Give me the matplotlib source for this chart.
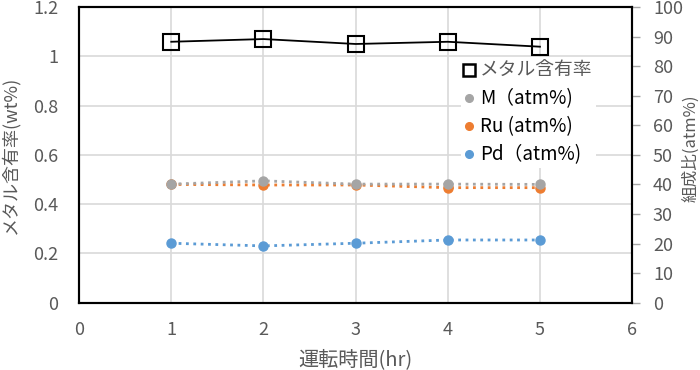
import matplotlib
matplotlib.use("Agg")
import matplotlib.pyplot as plt
from matplotlib.lines import Line2D

plt.rcParams["font.family"] = ["Noto Sans CJK JP", "DejaVu Sans"]

hours = [1, 2, 3, 4, 5]
metal_content = [1.059, 1.070, 1.050, 1.059, 1.039]
m_atm = [40.1, 41.2, 40.1, 40.1, 40.0]
ru_atm = [40.0, 39.8, 39.8, 38.9, 38.9]
pd_atm = [20.1, 19.2, 20.1, 21.2, 21.2]

TEXT = "#595959"
GRID = "#d9d9d9"

fig = plt.figure(figsize=(7, 3.7), dpi=100)
ax = fig.add_axes([0.113, 0.182, 0.79, 0.799])
ax2 = ax.twinx()

ax.set_xlim(0, 6)
ax.set_ylim(0, 1.2)
ax2.set_ylim(0, 100)
ax.set_xticks(range(0, 7))
ax.set_yticks([0, 0.2, 0.4, 0.6, 0.8, 1, 1.2])
ax.set_yticklabels(["0", "0.2", "0.4", "0.6", "0.8", "1", "1.2"])
ax2.set_yticks(range(0, 101, 10))
ax.grid(True, color=GRID, linewidth=1.2)
ax.set_axisbelow(True)

ax.tick_params(axis="x", length=0, labelsize=13, colors=TEXT, pad=13)
ax.tick_params(axis="y", length=0, labelsize=13, colors=TEXT, pad=15)
ax2.tick_params(axis="y", length=6, width=1, color="#a6a6a6", labelsize=13,
                labelcolor=TEXT, pad=9)
for a in (ax, ax2):
    for s in a.spines.values():
        s.set_color("black")
        s.set_linewidth(1.5)

ax.plot(hours, metal_content, color="black", linewidth=1.3, marker="s",
        markersize=11, markerfacecolor="none", markeredgecolor="black",
        markeredgewidth=1.5, zorder=5)

ax2.plot(hours, pd_atm, color="#5b9bd5", linestyle=":", linewidth=2,
         marker="o", markersize=6.5)
ax2.plot(hours, ru_atm, color="#ed7d31", linestyle=":", linewidth=2,
         marker="o", markersize=6.5)
ax2.plot(hours, m_atm, color="#a5a5a5", linestyle=":", linewidth=2,
         marker="o", markersize=6.5)

ax.set_xlabel("運転時間(hr)", fontsize=14.5, color=TEXT)
ax.set_ylabel("メタル含有率(wt%)", fontsize=13, color=TEXT)
ax2.set_ylabel("組成比(atm%)", fontsize=12, color=TEXT, rotation=90)
ax.xaxis.set_label_coords(0.5, -0.158)
ax.yaxis.set_label_coords(-0.108, 0.5)
ax2.yaxis.set_label_coords(1.090, 0.523)

handles = [
    Line2D([], [], linestyle="none", marker="s", markersize=9,
           markerfacecolor="none", markeredgecolor="black", markeredgewidth=1.8),
    Line2D([], [], linestyle="none", marker="o", markersize=5.5, color="#a5a5a5"),
    Line2D([], [], linestyle="none", marker="o", markersize=5.5, color="#ed7d31"),
    Line2D([], [], linestyle="none", marker="o", markersize=5.5, color="#5b9bd5"),
]
labels = ["メタル含有率", "M（atm%)", "Ru (atm%)", "Pd（atm%)"]
leg = ax2.legend(handles, labels, loc="upper left", bbox_to_anchor=(0.69, 0.83),
                 frameon=True, fontsize=13.5, handlelength=0.6, handletextpad=0.3,
                 labelspacing=0.38, borderpad=0.15, borderaxespad=0)
leg.get_frame().set_facecolor("white")
leg.get_frame().set_edgecolor("none")
leg.get_frame().set_alpha(1)
leg.get_texts()[0].set_color(TEXT)

fig.savefig("out.png", dpi=100)
